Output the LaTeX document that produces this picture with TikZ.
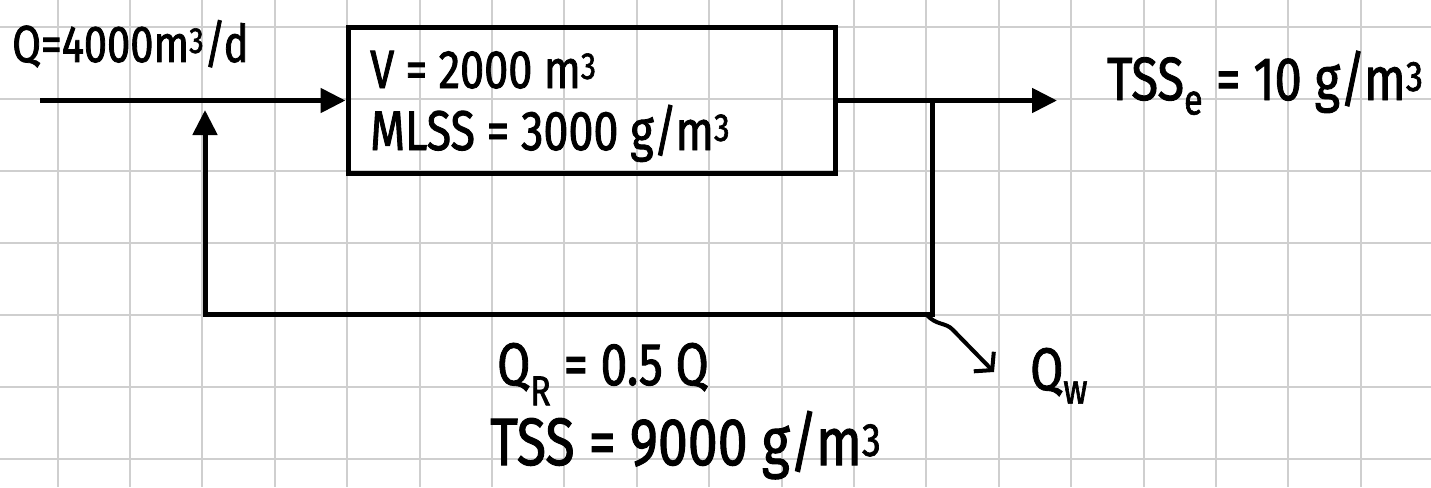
\documentclass[tikz,border=0pt]{standalone}
\usepackage{fontspec}
\setmainfont{Fira Sans}[FakeStretch=0.8, FakeBold=1.5]
\usetikzlibrary{arrows.meta,calc}
\definecolor{gridgray}{HTML}{CFCFCF}

\begin{document}
\begin{tikzpicture}[x=1pt, y=-1pt, >={Triangle[length=25pt,width=24pt]},
   flow/.style={line width=5pt},
   tank/.style={draw, line width=5pt, minimum width=487pt, minimum height=145pt, inner sep=0pt},
   lbl/.style={anchor=base west, inner sep=0pt, font=\fontsize{52}{56}\selectfont}]
  \useasboundingbox (0,0) rectangle (1431,487);
  % squared paper
  \foreach \i in {-1,...,19} \draw[gridgray, line width=2pt] (57.5+72.4*\i,0) -- (57.5+72.4*\i,487);
  \foreach \j in {-1,...,6} \draw[gridgray, line width=2pt] (0,27+72*\j) -- (1431,27+72*\j);

  % aeration tank
  \node[tank] (tank) at (591.5,100.5) {};
  \node[lbl, font=\fontsize{54}{58}\selectfont] (vol) at (370,88) {V = 2000 m\textsuperscript{3}};
  \node[lbl, font=\fontsize{56}{60}\selectfont] (mlss) at (370,150) {MLSS = 3000 g/m\textsuperscript{3}};

  % labels
  \node[lbl] (qin) at (12,62) {Q=4000m\textsuperscript{3}/d};
  \node[lbl, font=\fontsize{61}{65}\selectfont] (tsse) at (1107,100) {TSS\textsubscript{e} = 10 g/m\textsuperscript{3}};
  \node[lbl, font=\fontsize{60}{64}\selectfont] (qr) at (497,385) {Q\textsubscript{R} = 0.5 Q};
  \node[lbl, font=\fontsize{67}{71}\selectfont] (tssr) at (490,465) {TSS = 9000 g/m\textsuperscript{3}};
  \node[lbl, font=\fontsize{60}{64}\selectfont] (qw) at (1030,390) {Q\textsubscript{w}};

  \coordinate (in) at (40,100.5);
  \coordinate (split) at (932,100.5);
  \coordinate (out) at (1057,100.5);
  \coordinate (ret) at (205,314);
  \coordinate (rtip) at (205,110);
  \coordinate (waste) at (926,314);
  \coordinate (wtip) at (994,372);

  \draw[flow,->] (in) -- (tank.west);
  \draw[flow,->] (tank.east) -- (out);
  \draw[flow,->] (split) |- (ret) -- (rtip);
  \draw[line width=4pt, line cap=round, -{Straight Barb[length=12pt,width=28pt]}]
       (waste) .. controls (936,326) and (946,322) .. (953,330) -- (wtip);
\end{tikzpicture}
\end{document}
